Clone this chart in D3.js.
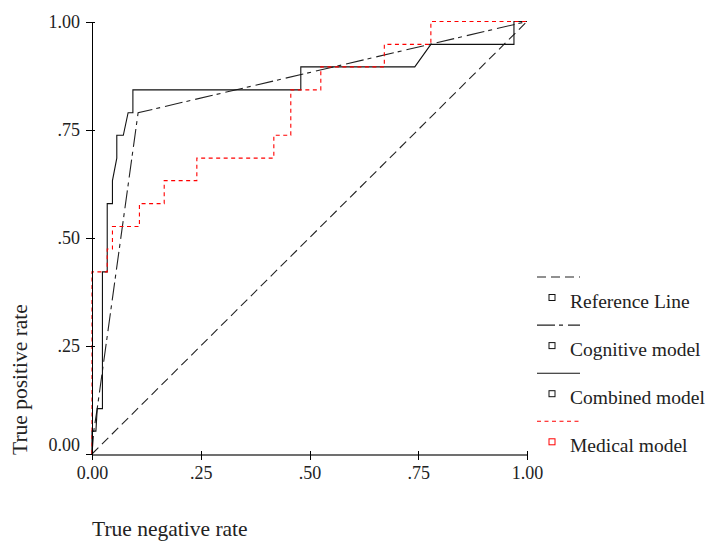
<!DOCTYPE html>
<html>
<head>
<meta charset="utf-8">
<script src="https://cdn.jsdelivr.net/npm/d3@7"></script>
<style>
  html, body { margin: 0; padding: 0; background: #fff; }
  svg text { font-family: "Liberation Serif", "Times New Roman", serif; fill: #222; }
</style>
</head>
<body>
<svg width="712" height="541"></svg>
<script>
// axis ticks
const tickValues = [0, 0.25, 0.5, 0.75, 1];
const tickLabels = ['0.00', '.25', '.50', '.75', '1.00'];

// legend
const seriesNames = ['Reference Line', 'Cognitive model', 'Combined model', 'Medical model'];

// ROC points, x = 1 - specificity, y = sensitivity
const referenceX = [0, 1];
const referenceY = [0, 1];

const cognitiveX = [0, 0.004, 0.012, 0.106, 1];
const cognitiveY = [0, 0.053, 0.105, 0.789, 1];

const combinedX = [0, 0, 0.009, 0.012, 0.024, 0.024, 0.035, 0.035, 0.047, 0.047, 0.057, 0.057,
  0.072, 0.083, 0.094, 0.094, 0.480, 0.480, 0.742, 0.779, 0.970, 0.970, 1];
const combinedY = [0, 0.053, 0.053, 0.105, 0.105, 0.421, 0.421, 0.579, 0.579, 0.632, 0.684, 0.737,
  0.737, 0.789, 0.789, 0.842, 0.842, 0.895, 0.895, 0.947, 0.947, 1, 1];

const medicalX = [0, 0, 0.035, 0.035, 0.047, 0.047, 0.109, 0.109, 0.166, 0.166, 0.241, 0.241,
  0.418, 0.418, 0.457, 0.457, 0.526, 0.526, 0.672, 0.672, 0.779, 0.779, 1];
const medicalY = [0, 0.421, 0.421, 0.474, 0.474, 0.526, 0.526, 0.579, 0.579, 0.632, 0.632, 0.684,
  0.684, 0.737, 0.737, 0.842, 0.842, 0.895, 0.895, 0.947, 0.947, 1, 1];

const svg = d3.select('svg');
const serif = '"Liberation Serif", "Times New Roman", serif';

const x = d3.scaleLinear().domain([0, 1]).range([92, 527]);
const y = d3.scaleLinear().domain([0, 1]).range([454, 21.5]);

const styles = [
  { stroke: '#222', dash: '9,5' },
  { stroke: '#222', dash: '18,4,4,5' },
  { stroke: '#111', dash: null },
  { stroke: '#ff0000', dash: '4,3.5' }
];

const series = [
  d3.zip(referenceX, referenceY),
  d3.zip(cognitiveX, cognitiveY),
  d3.zip(combinedX, combinedY),
  d3.zip(medicalX, medicalY)
];

const line = d3.line().x(d => x(d[0])).y(d => y(d[1]));

svg.append('g').selectAll('path')
  .data(series)
  .enter().append('path')
  .attr('d', line)
  .attr('fill', 'none')
  .attr('stroke', (_, i) => styles[i].stroke)
  .attr('stroke-width', 1.1)
  .attr('stroke-dasharray', (_, i) => styles[i].dash);

// axes
const yAxis = svg.append('g')
  .attr('transform', 'translate(' + x(0) + ',0)')
  .call(d3.axisLeft(y).tickValues(tickValues)
    .tickFormat((d, i) => tickLabels[i]).tickSize(6).tickSizeOuter(0).tickPadding(6));
yAxis.attr('font-family', serif);
yAxis.select('.domain').attr('stroke', '#000');
yAxis.selectAll('.tick line').attr('x1', 3);
yAxis.selectAll('.tick text')
  .style('font-size', '18px')
  .attr('dy', (d) => d === 0 ? '-0.2em' : '0.32em');

const xAxis = svg.append('g')
  .attr('transform', 'translate(0,' + y(0) + ')')
  .call(d3.axisBottom(x).tickValues(tickValues)
    .tickFormat((d, i) => tickLabels[i]).tickSize(6).tickSizeOuter(0).tickPadding(6));
xAxis.attr('font-family', serif);
xAxis.select('.domain').attr('stroke', '#707070').attr('stroke-width', 2);
xAxis.selectAll('.tick line').attr('y1', -3);
xAxis.selectAll('.tick text').style('font-size', '18px');

svg.selectAll('.domain, .tick line').attr('shape-rendering', 'crispEdges');

// axis titles
svg.append('text')
  .attr('x', 92)
  .attr('y', 536)
  .style('font-size', '21.5px')
  .text('True negative rate');

svg.append('text')
  .attr('transform', 'translate(27,455) rotate(-90)')
  .style('font-size', '21.5px')
  .text('True positive rate');

// legend
const legend = svg.append('g').attr('transform', 'translate(537,277)');
const item = legend.selectAll('g')
  .data(seriesNames)
  .enter().append('g')
  .attr('transform', (_, i) => 'translate(0,' + i * 48.1 + ')');

item.append('line')
  .attr('x1', 0).attr('x2', 43)
  .attr('y1', 0).attr('y2', 0)
  .attr('stroke', (_, i) => styles[i].stroke)
  .attr('stroke-width', 1.1)
  .attr('stroke-dasharray', (_, i) => styles[i].dash);

item.append('rect')
  .attr('x', 12).attr('y', 17.5)
  .attr('width', 6).attr('height', 6)
  .attr('fill', '#fff')
  .attr('stroke', (_, i) => i === 3 ? '#ff0000' : '#111');

item.append('text')
  .attr('x', 33)
  .attr('y', 31)
  .style('font-size', '19.5px')
  .text(d => d);
</script>
</body>
</html>
